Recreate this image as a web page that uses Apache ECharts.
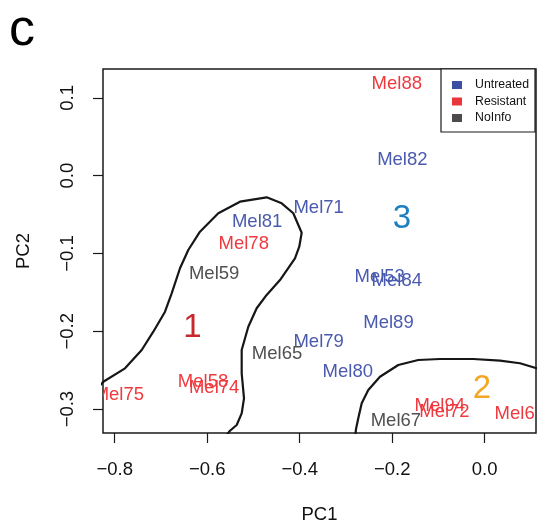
<!DOCTYPE html>
<html>
<head>
<meta charset="utf-8">
<script src="https://cdn.jsdelivr.net/npm/echarts@6/dist/echarts.min.js"></script>
<style>
  html, body { margin: 0; padding: 0; background: #fff; }
  #chart { width: 537px; height: 528px; }
</style>
</head>
<body>
<div id="chart"></div>
<script>
// Sample labels and their principal component scores
const sampleNames = ['Mel88', 'Mel82', 'Mel71', 'Mel81', 'Mel78', 'Mel59', 'Mel58', 'Mel74', 'Mel75',
                     'Mel65', 'Mel79', 'Mel80', 'Mel89', 'Mel53', 'Mel84', 'Mel67', 'Mel94', 'Mel72', 'Mel66'];
const pc1 = [-0.190, -0.178, -0.359, -0.492, -0.521, -0.585, -0.609, -0.585, -0.791,
             -0.449, -0.359, -0.296, -0.208, -0.227, -0.190, -0.192, -0.097, -0.087, 0.076];
const pc2 = [0.1195, 0.0219, -0.0398, -0.0578, -0.0861, -0.1247, -0.2626, -0.2703, -0.2793,
             -0.2275, -0.2112, -0.2497, -0.1877, -0.1276, -0.1328, -0.3131, -0.2934, -0.3021, -0.3046];
const sampleGroup = ['Resistant', 'Untreated', 'Untreated', 'Untreated', 'Resistant', 'NoInfo', 'Resistant', 'Resistant', 'Resistant',
                     'NoInfo', 'Untreated', 'Untreated', 'Untreated', 'Untreated', 'Untreated', 'NoInfo', 'Resistant', 'Resistant', 'Resistant'];

// Groups: legend swatch colour and label text colour
const groupNames = ['Untreated', 'Resistant', 'NoInfo'];
const groupSwatch = ['#3c50a2', '#e8363b', '#4b4b4b'];
const groupText = ['#4a5aae', '#ee3a3f', '#505050'];

// Cluster numbers
const clusterNames = ['1', '2', '3'];
const clusterPc1 = [-0.632, -0.006, -0.179];
const clusterPc2 = [-0.1932, -0.272, -0.0535];
const clusterColors = ['#c8282d', '#f5a623', '#1f7fc1'];

// Contour boundaries
const contourA = [[-0.84, -0.275], [-0.8246, -0.2648], [-0.7777, -0.2476], [-0.7416, -0.2240], [-0.7165, -0.2005],
  [-0.6912, -0.1748], [-0.6768, -0.1512], [-0.6588, -0.1190], [-0.6409, -0.0955], [-0.6156, -0.0720],
  [-0.5760, -0.0483], [-0.5291, -0.0334], [-0.4714, -0.0278], [-0.4389, -0.0355], [-0.4138, -0.0483],
  [-0.3957, -0.0733], [-0.4009, -0.0913], [-0.4102, -0.1062], [-0.4426, -0.1341], [-0.4714, -0.1533],
  [-0.4930, -0.1704], [-0.5111, -0.1941], [-0.5254, -0.2240], [-0.5254, -0.2540], [-0.5204, -0.2861],
  [-0.5254, -0.3054], [-0.5362, -0.3204], [-0.5507, -0.3278], [-0.560, -0.335]];
const contourB = [[-0.280, -0.335], [-0.2783, -0.3260], [-0.2733, -0.3118], [-0.2659, -0.2925], [-0.2517, -0.2754],
  [-0.2264, -0.2584], [-0.1868, -0.2433], [-0.1436, -0.2369], [-0.0966, -0.2356], [-0.0246, -0.2356],
  [0.0331, -0.2378], [0.0763, -0.2411], [0.1087, -0.2468], [0.125, -0.250]];

// Axis ticks
const xTicks = [-0.8, -0.6, -0.4, -0.2, 0.0];
const yTicks = [-0.3, -0.2, -0.1, 0.0, 0.1];

const FONT = '"Liberation Sans", Arial, Helvetica, sans-serif';
const fmt = v => (v < 0 ? '\u2212' : '') + Math.abs(v).toFixed(1);
// canvas 'middle' sits a little above the visual centre of capitals/digits
const TEXT_NUDGE = 1.5;

const textSeries = groupNames.map((g, gi) => {
  const items = [];
  sampleNames.forEach((n, i) => {
    if (sampleGroup[i] === g) items.push({ value: [pc1[i], pc2[i]], name: n });
  });
  return {
    type: 'custom',
    name: g,
    clip: true,
    z: 5,
    itemStyle: { color: groupSwatch[gi] },
    data: items,
    renderItem: (params, api) => {
      const p = api.coord([api.value(0), api.value(1)]);
      return {
        type: 'text',
        x: p[0], y: p[1] + TEXT_NUDGE,
        style: {
          text: items[params.dataIndex].name,
          fill: groupText[gi],
          font: '18.5px ' + FONT,
          align: 'center',
          verticalAlign: 'middle'
        }
      };
    }
  };
});

const clusterSeries = {
  type: 'custom',
  name: 'clusters',
  clip: true,
  z: 5,
  data: clusterNames.map((n, i) => ({ value: [clusterPc1[i], clusterPc2[i]], name: n })),
  renderItem: (params, api) => {
    const p = api.coord([api.value(0), api.value(1)]);
    return {
      type: 'text',
      x: p[0], y: p[1] + TEXT_NUDGE,
      style: {
        text: clusterNames[params.dataIndex],
        fill: clusterColors[params.dataIndex],
        font: '33px ' + FONT,
        align: 'center',
        verticalAlign: 'middle'
      }
    };
  }
};

const contourSeries = [contourA, contourB].map((c, i) => ({
  type: 'line',
  name: 'contour' + i,
  data: c,
  showSymbol: false,
  clip: true,
  silent: true,
  z: 3,
  lineStyle: { color: '#161616', width: 2.2 }
}));

const chart = echarts.init(document.getElementById('chart'), null, { renderer: 'canvas' });
chart.setOption({
  animation: false,
  backgroundColor: '#fff',
  textStyle: { fontFamily: FONT },
  graphic: [{
    type: 'text', left: 9, top: 5,
    style: { text: 'c', font: '52px ' + FONT, fill: '#000' }
  }],
  grid: {
    left: 103, top: 69, right: 1, bottom: 95,
    outerBoundsMode: 'none',
    containLabel: false,
    show: true, borderColor: '#1a1a1a', borderWidth: 1.5, backgroundColor: 'transparent'
  },
  legend: {
    data: groupNames,
    orient: 'vertical',
    left: 441, top: 69,
    icon: 'rect',
    itemWidth: 10, itemHeight: 8, itemGap: 4.5,
    padding: [10, 6, 8, 11],
    borderColor: '#1a1a1a', borderWidth: 1.2,
    backgroundColor: '#fff',
    selectedMode: false,
    textStyle: { fontSize: 12.3, color: '#111', fontFamily: FONT, padding: [0, 0, 0, 8] }
  },
  xAxis: {
    type: 'value',
    min: -0.8253, max: 0.111,
    name: 'PC1', nameLocation: 'middle', nameGap: 72,
    nameTextStyle: { fontSize: 18.5, color: '#111', fontFamily: FONT },
    axisLine: { show: false, onZero: false },
    splitLine: { show: false },
    axisTick: { show: true, inside: false, length: 10, customValues: xTicks, lineStyle: { color: '#1a1a1a', width: 1.2 } },
    axisLabel: { customValues: xTicks, formatter: fmt, fontSize: 18.5, color: '#111', margin: 27, fontFamily: FONT }
  },
  yAxis: {
    type: 'value',
    min: -0.3307, max: 0.1371,
    name: 'PC2', nameLocation: 'middle', nameGap: 70,
    nameTextStyle: { fontSize: 18.5, color: '#111', fontFamily: FONT },
    axisLine: { show: false, onZero: false },
    splitLine: { show: false },
    axisTick: { show: true, inside: false, length: 10, customValues: yTicks, lineStyle: { color: '#1a1a1a', width: 1.2 } },
    axisLabel: { customValues: yTicks, formatter: fmt, rotate: 90, fontSize: 18.5, color: '#111', margin: 26, fontFamily: FONT }
  },
  series: [...contourSeries, ...textSeries, clusterSeries]
});
</script>
</body>
</html>
